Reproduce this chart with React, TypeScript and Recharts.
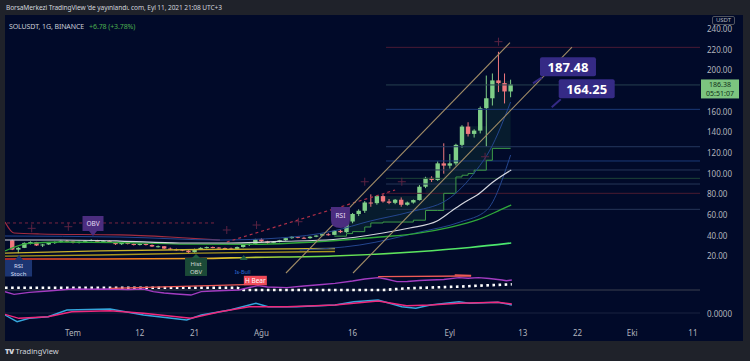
import React from 'react';
import { ComposedChart, Bar, Line, Area, XAxis, YAxis, ReferenceLine, ReferenceDot } from 'recharts';

// ---------- axis setup ----------
const X_MIN = -11.19;
const X_MAX = 103.16;
const PRICE_DOMAIN: [number, number] = [-47.43, 252.64];
const RSI_DOMAIN: [number, number] = [-32, 588];
const OSC_DOMAIN: [number, number] = [-6.5, 148.5];
const tickDays = [0, 11, 20, 31, 46, 62, 74, 83, 92, 102];
const tickLabels = ['Tem', '12', '21', 'Ağu', '16', 'Eyl', '13', '22', 'Eki', '11'];
const priceTicks = [20, 40, 60, 80, 100, 120, 140, 160, 200, 220, 240];

// ---------- candles (day 0 = 1 Temmuz) ----------
const days = [-10, -9, -8, -7, -6, -5, -4, -3, -2, -1, 0, 1, 2, 3, 4, 5, 6, 7, 8, 9, 10, 11, 12, 13, 14, 15, 16, 17, 18, 19, 20, 21, 22, 23, 24, 25, 26, 27, 28, 29, 30, 31, 32, 33, 34, 35, 36, 37, 38, 39, 40, 41, 42, 43, 44, 45, 46, 47, 48, 49, 50, 51, 52, 53, 54, 55, 56, 57, 58, 59, 60, 61, 62, 63, 64, 65, 66, 67, 68, 69, 70, 71, 72];
const opens = [35.5, 26.5, 28.2, 33, 33.8, 30.5, 31.5, 33, 33.8, 35,
  34.5, 33.2, 34, 35, 35.8, 34, 35, 33.5, 31.8, 33,
  32, 31, 32, 31, 29.5, 29.8, 27.5, 26.8, 26.5, 25.5,
  24, 27, 28.2, 29, 28.5, 28, 27.6, 27.2, 29, 31,
  32, 36.5, 34.5, 33, 34, 35.6, 37.6, 39, 38, 37.6,
  39, 40.1, 41.4, 40.8, 44.7, 43.4, 53.7, 61, 64.1, 72.1,
  71.5, 78.3, 73.1, 71.8, 74.8, 69.9, 72.1, 74.5, 87.4, 96,
  93.9, 110, 107.8, 110, 127.9, 145.6, 138.5, 141.7, 163.4, 173,
  190.3, 187.7, 179.6];
const highs = [36, 29, 33.5, 34.5, 34, 32, 33.5, 34.5, 35.5, 35.8,
  35, 34.5, 35.5, 36.5, 36, 35.5, 35.5, 34, 33.5, 33.5,
  32.5, 32.5, 32.5, 31.5, 30.5, 30, 28.5, 27.5, 27, 26,
  27.5, 28.8, 29.5, 29.5, 29, 28.5, 28.5, 29.5, 31.5, 32.5,
  37, 37.5, 35, 34.5, 36, 38, 39.5, 39.5, 39, 39.5,
  40.5, 42, 42.5, 45.5, 46, 54.5, 62, 65.5, 73.5, 80,
  79, 80, 75.5, 75.5, 77, 73, 75, 89, 97, 97.5,
  112, 129.4, 119, 129, 147, 149.8, 143, 165, 195, 197,
  218, 197, 191];
const lows = [26, 23, 28, 31.5, 30, 29, 31, 32, 33, 33.5,
  32.5, 32.5, 33.5, 34.5, 33.5, 33.5, 33, 31, 31, 31.5,
  30.5, 30.5, 30.5, 29, 28.5, 27, 26, 25.5, 25, 22.5,
  23.5, 26.5, 27.5, 27.8, 27.5, 27, 26.5, 27, 28.5, 30,
  31.5, 34, 32, 32.5, 33.5, 35, 37, 37.5, 37, 37,
  38.5, 39.5, 40, 40.5, 42.5, 42.8, 52, 59, 62, 68,
  70, 72, 70.5, 70.5, 68, 69, 71, 74, 86, 92,
  93, 100, 105, 108, 125, 136, 135, 139, 126, 166,
  179, 168, 174];
const closes = [26.5, 28.2, 33, 33.8, 30.5, 31.5, 33, 33.8, 35, 34.5,
  33.2, 34, 35, 35.8, 34, 35, 33.5, 31.8, 33, 32,
  31, 32, 31, 29.5, 29.8, 27.5, 26.8, 26.5, 25.5, 24,
  27, 28.2, 29, 28.5, 28, 27.6, 27.2, 29, 31, 32,
  36.5, 34.5, 33, 34, 35.6, 37.6, 39, 38, 37.6, 39,
  40.1, 41.4, 40.8, 44.7, 43.4, 53.7, 61, 64.1, 72.1, 71.5,
  78.3, 73.1, 71.8, 74.8, 69.9, 72.1, 74.5, 87.4, 96, 93.9,
  110, 107.8, 110, 127.9, 145.6, 138.5, 141.7, 163.4, 173, 190.3,
  187.7, 179.6, 186.38];
const lastPrice = 186.38;

// ---------- overlays on price pane ----------
const whiteDays = [-11.19, -2.14, 7.73, 17.6, 25.8, 34.1, 42.8, 51.0, 55.4, 59.9, 62.4, 64.5, 66.5, 69.1, 72.1];
const whiteVals = [35.8, 35.8, 34.8, 32.9, 32.9, 34.4, 36.3, 42.6, 47.4, 54.2, 64.4, 72.6, 79.4, 92.0, 103.6];
const greenDays = [-11.19, -7.57, -2.14, 7.73, 17.6, 29.1, 42.8, 50.5, 56.6, 62.0, 66.5, 70.3, 72.1];
const greenVals = [25.2, 32.4, 33.9, 33.4, 31.9, 31.7, 35.1, 38.7, 42.3, 48.1, 55.2, 64.9, 69.7];
const longDays = [-11.19, 4.44, 20.9, 29.1, 42.8, 56.6, 65.3, 72.1];
const longVals = [17.4, 17.4, 17.9, 18.9, 20.3, 24.5, 28.6, 32.9];
const yellowDays = [-11.19, 4.44, 20.9, 43.1];
const yellow1Vals = [23.2, 25.2, 26.6, 27.6];
const yellow2Vals = [20.3, 21.3, 23.2, 24.7];
const redBandDays = [-11.19, -9.71, -5.43, 7.73, 15.96, 24.2];
const redBandVals = [53.2, 42.6, 41.6, 40.7, 38.7, 35.8];
const blue1Days = [-11.19, 7.73, 24.2, 34.1, 42.8, 48.9, 55.4, 61.5, 66.4, 68.6, 72.0];
const blue1Vals = [39.7, 38.7, 35.8, 37.8, 44.5, 54.2, 62.9, 74.5, 103.6, 122.9, 169.4];
const blue2Days = [37.3, 47.2, 57.1, 63.7, 68.1, 72.0];
const blue2Vals = [26.1, 31, 43.6, 53.2, 64.9, 118.1];
const dashFlatDays = [-10.86, 23.7];
const dashFlatVals = [52.3, 52.3];
const dashRiseDays = [25.3, 53.0];
const dashRiseVals = [33.9, 84.2];
const chanUpDays = [35.04, 71.9];
const chanUpVals = [3.87, 226.8];
const chanLoDays = [46.07, 82.1];
const chanLoVals = [3.87, 222.6];
const fillDays = [43, 45, 46, 48, 49, 51, 56, 58, 60, 61, 63, 64, 65, 66, 68, 69, 72];
const fillLower = [39.5, 42, 43.9, 48.4, 52.3, 53.2, 55, 64.4, 64.4, 81, 96.8, 98.5, 100.1, 103.4, 113, 124.5, 124.5];
const fillUpper = [44.7, 53.7, 61, 72.1, 72.1, 78.3, 78.3, 96, 96, 110, 128, 146, 146, 146, 173, 190, 190];
const levelStart = 51.5;
const levelVals = [222.3, 185.9, 162.3, 126.1, 112.3, 103.6, 95.5, 90, 81, 65.5];
const levelColors = ['#4a1b34', '#27414f', '#1b3a78', '#24385e', '#1b3a78', '#263657', '#1d4436', '#263657', '#4a1b30', '#263657'];
const crossDays = [-6.8, -0.77, 25.3, 30.2, 37.1, 48.0, 54.1, 67.8, 70.0];
const crossVals = [47.1, 48.7, 45.5, 50.3, 53.5, 92.2, 92.2, 116.4, 227.8];
const tagDays = [75.68, 78.76];
const tagVals = [187.48, 164.25];

// ---------- lower panes ----------
const rsiDays = [-11.19, -9.7, -7.2, -4.1, -0.2, 3, 6.1, 9, 11.6, 13.2, 15, 17, 19.4, 21.1, 23, 25, 27.3, 29, 30.4, 32, 35.2, 38, 41, 43.1, 46, 48, 50.2, 51.5, 53.3, 55, 57, 58.8, 61, 63.5, 65, 66.7, 68.5, 70.6, 71.3, 72.2];
const rsiVals = [36.6, 31.4, 35.4, 38, 42, 41.5, 42, 41, 42, 36.6, 34, 32, 30, 36.6, 38, 39, 40, 45, 48.6, 46, 44.6, 48, 51, 53.4, 58, 62, 64.6, 62, 56.6, 57, 59, 60, 61, 64.6, 63.5, 64.6, 63, 60, 58.5, 60];
const obvDays = [-11.19, 27, 28, 51, 55, 63, 72.2];
const obvVals = [44.6, 44.6, 40, 40, 43.4, 46.6, 51.4];
const div1Days = [6.09, 29.72];
const div1Vals = [43.4, 51.4];
const div2Days = [50.2, 65.5];
const div2Vals = [66.6, 68.0];
const div3Days = [62.8, 65.5];
const div3Vals = [70.0, 69.0];
const macdDays = [-11.19, -9.2, -7.2, -4.1, -1.0, 6.1, 11.6, 18.7, 21.1, 25.8, 30.1, 32.1, 36.8, 43.1, 46.2, 50.2, 54.1, 56.4, 58.8, 63.5, 65.2, 69.9, 72.2];
const macdVals = [-1, -4.35, -2.65, -1.85, 1.5, 2, -1, -3.5, -1, 1.5, 4.85, 3.15, 3.15, 4, 5.65, 6.5, 3.15, 2.35, 4, 5.65, 4.85, 5.35, 4];
const signalDays = [-11.19, -8.9, -4.1, -0.2, 6.1, 11.6, 19.4, 24.2, 29, 35.2, 43.1, 50.2, 54.9, 58.8, 63.5, 69.9, 72.2];
const signalVals = [-0.65, -2.65, -1.85, 0.65, 1.15, -0.15, -2.65, 0.65, 3.15, 3.15, 4, 6, 3.65, 4, 4.85, 5.35, 4.5];

// ---------- styles ----------
const NAVY = '#010a29';
const UP = '#80cf88';
const DOWN = '#f0787e';
const PURPLE = '#4b2d7f';
const TAG = '#352a85';
const FONT = "'Noto Sans', 'DejaVu Sans', sans-serif";

const zip = (xs: number[], ys: number[]) => xs.map((d, i) => ({ d, v: ys[i] }));

const Candle = (props: any) => {
  const { x, y, width, height, payload } = props;
  if (x == null || y == null || !payload) return null;
  const { open, close, high, low } = payload;
  const top = Math.min(y, y + height);
  const h = Math.abs(height);
  const range = high - low;
  const ppu = range > 0 ? h / range : 0;
  const yO = top + (high - open) * ppu;
  const yC = top + (high - close) * ppu;
  const color = close >= open ? UP : DOWN;
  const cx = x + width / 2;
  const bt = Math.min(yO, yC);
  const bh = Math.max(1, Math.abs(yC - yO));
  return (
    <g>
      <line x1={cx} x2={cx} y1={top} y2={top + h} stroke={color} strokeWidth={1} />
      <rect x={cx - 2.2} y={bt} width={4.4} height={bh} fill={color} />
    </g>
  );
};

const PriceTag = (text: string, dy: number) => (p: any) => {
  const { cx, cy } = p;
  return (
    <g>
      <line x1={cx} y1={cy} x2={cx + 9} y2={cy + dy + 1} stroke={TAG} strokeWidth={2} />
      <rect x={cx + 7} y={cy + dy - 19} width={56} height={19} rx={2} fill={TAG} />
      <text x={cx + 35} y={cy + dy - 9.5} textAnchor="middle" dominantBaseline="central" fill="#ffffff" fontSize={13} fontWeight={700} fontFamily={FONT}>{text}</text>
    </g>
  );
};

const LastPriceTag = (p: any) => {
  const { cx, cy } = p;
  return (
    <g>
      <rect x={cx + 1} y={cy - 5} width={38} height={19} fill="#7cc47f" />
      <text x={cx + 20} y={cy - 0.3} textAnchor="middle" dominantBaseline="central" fill="#10301a" fontSize={7} fontFamily={FONT}>{lastPrice.toFixed(2)}</text>
      <text x={cx + 20} y={cy + 9.3} textAnchor="middle" dominantBaseline="central" fill="#10301a" fontSize={7} fontFamily={FONT}>05:51:07</text>
    </g>
  );
};

const ZeroTag = (p: any) => (
  <text x={p.cx + 7} y={p.cy} dominantBaseline="central" fill="#b2b5be" fontSize={8} fontFamily={FONT}>0.0000</text>
);

const ObvTag = (p: any) => {
  const { cx, cy } = p;
  return (
    <g>
      <path d={`M${cx - 4},${cy - 5} L${cx + 4},${cy - 5} L${cx},${cy} Z`} fill={PURPLE} />
      <rect x={cx - 10.5} y={cy - 20} width={21} height={15} fill={PURPLE} />
      <text x={cx} y={cy - 12.5} textAnchor="middle" dominantBaseline="central" fill="#e6dcf5" fontSize={6.5} fontFamily={FONT}>OBV</text>
    </g>
  );
};

const RsiTag = (p: any) => {
  const { cx, cy } = p;
  return (
    <g>
      <path d={`M${cx - 9.5},${cy - 21} H${cx + 9.5} V${cy - 8} Q${cx + 9.5},${cy} ${cx},${cy} Q${cx - 9.5},${cy} ${cx - 9.5},${cy - 8} Z`} fill={PURPLE} />
      <text x={cx} y={cy - 13} textAnchor="middle" dominantBaseline="central" fill="#e6dcf5" fontSize={6.5} fontFamily={FONT}>RSI</text>
    </g>
  );
};

const StochTag = (p: any) => {
  const { cx, cy } = p;
  const c = '#1c3572';
  return (
    <g clipPath="url(#pricePane)">
      <path d={`M${cx},${cy} L${cx + 4},${cy + 5} L${cx - 4},${cy + 5} Z`} fill={c} />
      <rect x={cx - 14} y={cy + 5} width={27} height={17} fill={c} />
      <text x={cx - 0.5} y={cy + 11} textAnchor="middle" dominantBaseline="central" fill="#d8def0" fontSize={6} fontFamily={FONT}>RSI</text>
      <text x={cx - 0.5} y={cy + 19.5} textAnchor="middle" dominantBaseline="central" fill="#d8def0" fontSize={6} fontFamily={FONT}>Stoch</text>
    </g>
  );
};

const HistTag = (p: any) => {
  const { cx, cy } = p;
  const c = '#1b4a37';
  return (
    <g clipPath="url(#pricePane)">
      <path d={`M${cx},${cy} L${cx + 4},${cy + 4} L${cx - 4},${cy + 4} Z`} fill="#1f5e40" />
      <rect x={cx - 11} y={cy + 4} width={22} height={18} fill={c} />
      <text x={cx} y={cy + 10} textAnchor="middle" dominantBaseline="central" fill="#cfd8d3" fontSize={6} fontFamily={FONT}>Hist</text>
      <text x={cx} y={cy + 18} textAnchor="middle" dominantBaseline="central" fill="#cfd8d3" fontSize={6} fontFamily={FONT}>OBV</text>
    </g>
  );
};

const BullTag = (p: any) => {
  const { cx, cy } = p;
  return (
    <g>
      <path d={`M${cx},${cy} L${cx + 4},${cy + 5} L${cx - 4},${cy + 5} Z`} fill="#1f5e40" />
      <text x={cx - 1} y={cy + 17} textAnchor="middle" dominantBaseline="central" fill="#2f6bd8" fontSize={5.5} fontFamily={FONT}>Is-Bull</text>
    </g>
  );
};

const BearTag = (p: any) => {
  const { cx, cy } = p;
  return (
    <g>
      <rect x={cx - 11.5} y={cy - 8.5} width={23} height={9.5} fill="#f04a58" />
      <text x={cx} y={cy - 3.7} textAnchor="middle" dominantBaseline="central" fill="#ffffff" fontSize={6.5} fontFamily={FONT}>H Bear</text>
    </g>
  );
};

const CrossMark = (p: any) => {
  const { cx, cy } = p;
  return (
    <g stroke="#5a2342" strokeWidth={1}>
      <line x1={cx - 4} x2={cx + 4} y1={cy} y2={cy} />
      <line x1={cx} x2={cx} y1={cy - 4} y2={cy + 4} />
    </g>
  );
};

export default function App() {
  const candles = days.map((d, i) => ({ d, open: opens[i], high: highs[i], low: lows[i], close: closes[i] }));
  const fillData = fillDays.map((d, i) => ({ d, lo: fillLower[i], hi: fillUpper[i] }));

  return (
    <div style={{ position: 'fixed', left: 0, top: 0, width: 750, height: 361, background: '#1f222a', overflow: 'hidden', fontFamily: FONT }}>
      <div style={{ position: 'absolute', left: 6, top: 3, fontSize: 6.6, color: '#d1d4dc', whiteSpace: 'nowrap', letterSpacing: -0.1, lineHeight: '10px' }}>
        BorsaMerkezi TradingView 'de yayınlandı. com, Eyl 11, 2021 21:08 UTC+3
      </div>
      <div style={{ position: 'absolute', left: 5, top: 15, width: 738, height: 326, background: NAVY }} />
      <div style={{ position: 'absolute', left: 0, top: 0 }}>
        <ComposedChart width={750} height={343} data={candles} margin={{ top: 16, right: 5, bottom: 2, left: 5 }}>
          <defs>
            <linearGradient id="longGrad" x1="0" y1="0" x2="1" y2="0">
              <stop offset="0" stopColor="#e2302c" />
              <stop offset="0.25" stopColor="#ff7a1c" />
              <stop offset="0.45" stopColor="#d8c22c" />
              <stop offset="0.6" stopColor="#6fe04c" />
              <stop offset="1" stopColor="#48e870" />
            </linearGradient>
            <clipPath id="pricePane">
              <rect x={0} y={16} width={750} height={260.5} />
            </clipPath>
          </defs>
          <XAxis dataKey="d" type="number" domain={[X_MIN, X_MAX]} allowDataOverflow ticks={tickDays}
            tickFormatter={(v: number) => tickLabels[tickDays.indexOf(v)] ?? ''}
            axisLine={false} tickLine={false} tickSize={0} tickMargin={4} height={15}
            tick={{ fill: '#b2b5be', fontSize: 8 }} interval={0} />
          <YAxis yAxisId="price" orientation="right" type="number" domain={PRICE_DOMAIN} allowDataOverflow ticks={priceTicks}
            tickFormatter={(v: number) => v.toFixed(2)} axisLine={false} tickLine={false} tickSize={0} tickMargin={7} width={45}
            tick={{ fill: '#b2b5be', fontSize: 8, textAnchor: 'start' }} interval={0} />
          <YAxis yAxisId="rsi" hide type="number" domain={RSI_DOMAIN} allowDataOverflow />
          <YAxis yAxisId="osc" hide type="number" domain={OSC_DOMAIN} allowDataOverflow />

          {levelVals.map((v, i) => (
            <Line key={'lvl' + i} yAxisId="price" data={[{ d: levelStart, v }, { d: X_MAX, v }]} dataKey="v" stroke={levelColors[i]} strokeWidth={1} dot={false} isAnimationActive={false} />
          ))}

          <Area yAxisId="price" data={fillData} dataKey={(p: any) => [p.lo, p.hi]} type="stepAfter" stroke="none" fill="#2d7a4a" fillOpacity={0.16} isAnimationActive={false} />
          <Line yAxisId="price" data={fillData} dataKey="lo" type="stepAfter" stroke="#3c9a48" strokeWidth={1} dot={false} isAnimationActive={false} />

          <Line yAxisId="price" data={zip(yellowDays, yellow1Vals)} dataKey="v" type="monotone" stroke="#c9b22a" strokeWidth={1.3} dot={false} isAnimationActive={false} />
          <Line yAxisId="price" data={zip(yellowDays, yellow2Vals)} dataKey="v" type="monotone" stroke="#a8961f" strokeWidth={1.3} dot={false} isAnimationActive={false} />
          <Line yAxisId="price" data={zip(redBandDays, redBandVals)} dataKey="v" type="monotone" stroke="#a32c40" strokeWidth={1.2} dot={false} isAnimationActive={false} />
          <Line yAxisId="price" data={zip(blue1Days, blue1Vals)} dataKey="v" type="monotone" stroke="#24468f" strokeWidth={1} dot={false} isAnimationActive={false} />
          <Line yAxisId="price" data={zip(blue2Days, blue2Vals)} dataKey="v" type="monotone" stroke="#24468f" strokeWidth={1} dot={false} isAnimationActive={false} />
          <Line yAxisId="price" data={zip(dashFlatDays, dashFlatVals)} dataKey="v" stroke="#7a2440" strokeWidth={1} strokeDasharray="3 3" dot={false} isAnimationActive={false} />
          <Line yAxisId="price" data={zip(dashRiseDays, dashRiseVals)} dataKey="v" stroke="#b03048" strokeWidth={1.2} strokeDasharray="3 3" dot={false} isAnimationActive={false} />
          <Line yAxisId="price" data={zip(longDays, longVals)} dataKey="v" type="monotone" stroke="url(#longGrad)" strokeWidth={1.6} dot={false} isAnimationActive={false} />
          <Line yAxisId="price" data={zip(greenDays, greenVals)} dataKey="v" type="monotone" stroke="#2fa83a" strokeWidth={1.3} dot={false} isAnimationActive={false} />
          <Line yAxisId="price" data={zip(whiteDays, whiteVals)} dataKey="v" type="monotone" stroke="#d4d6de" strokeWidth={1.2} dot={false} isAnimationActive={false} />

          <Bar yAxisId="price" dataKey={(p: any) => [p.low, p.high]} barSize={4} shape={<Candle />} isAnimationActive={false} />

          <Line yAxisId="price" data={zip(chanUpDays, chanUpVals)} dataKey="v" stroke="#a18c66" strokeWidth={1.1} dot={false} isAnimationActive={false} />
          <Line yAxisId="price" data={zip(chanLoDays, chanLoVals)} dataKey="v" stroke="#a18c66" strokeWidth={1.1} dot={false} isAnimationActive={false} />

          <ReferenceLine yAxisId="rsi" y={40} stroke="#3c4150" strokeWidth={1} />
          <ReferenceLine yAxisId="osc" y={0} stroke="#1a2240" strokeWidth={1} />

          <Line yAxisId="rsi" data={zip(obvDays, obvVals)} dataKey="v" stroke="#ffffff" strokeWidth={2.6} strokeDasharray="2.6 3.5" dot={false} isAnimationActive={false} />
          <Line yAxisId="rsi" data={zip(rsiDays, rsiVals)} dataKey="v" stroke="#a23cc0" strokeWidth={1.3} dot={false} isAnimationActive={false} />
          <Line yAxisId="rsi" data={zip(div1Days, div1Vals)} dataKey="v" stroke="#ef5a55" strokeWidth={1.3} dot={false} isAnimationActive={false} />
          <Line yAxisId="rsi" data={zip(div2Days, div2Vals)} dataKey="v" stroke="#ef5a55" strokeWidth={1.3} dot={false} isAnimationActive={false} />
          <Line yAxisId="rsi" data={zip(div3Days, div3Vals)} dataKey="v" stroke="#ef5a55" strokeWidth={1.3} dot={false} isAnimationActive={false} />

          <Line yAxisId="osc" data={zip(macdDays, macdVals)} dataKey="v" stroke="#35a6dc" strokeWidth={1.4} dot={false} isAnimationActive={false} />
          <Line yAxisId="osc" data={zip(signalDays, signalVals)} dataKey="v" stroke="#f0287c" strokeWidth={1.4} dot={false} isAnimationActive={false} />

          {crossDays.map((d, i) => (
            <ReferenceDot key={'c' + i} yAxisId="price" x={d} y={crossVals[i]} ifOverflow="visible" shape={CrossMark} />
          ))}
          <ReferenceDot yAxisId="price" x={3.29} y={39.7} ifOverflow="visible" shape={ObvTag} />
          <ReferenceDot yAxisId="price" x={44.0} y={47.4} ifOverflow="visible" shape={RsiTag} />
          <ReferenceDot yAxisId="price" x={-8.88} y={21.3} ifOverflow="visible" shape={StochTag} />
          <ReferenceDot yAxisId="price" x={20.24} y={22.3} ifOverflow="visible" shape={HistTag} />
          <ReferenceDot yAxisId="price" x={28.08} y={21.3} ifOverflow="visible" shape={BullTag} />
          <ReferenceDot yAxisId="rsi" x={30.0} y={51.4} ifOverflow="visible" shape={BearTag} />
          <ReferenceDot yAxisId="price" x={tagDays[0]} y={tagVals[0]} ifOverflow="visible" shape={PriceTag(tagVals[0].toFixed(2), -7)} />
          <ReferenceDot yAxisId="price" x={tagDays[1]} y={tagVals[1]} ifOverflow="visible" shape={PriceTag(tagVals[1].toFixed(2), -9)} />
          <ReferenceDot yAxisId="price" x={X_MAX} y={lastPrice} ifOverflow="visible" shape={LastPriceTag} />
          <ReferenceDot yAxisId="osc" x={X_MAX} y={0} ifOverflow="visible" shape={ZeroTag} />
        </ComposedChart>
      </div>
      <div style={{ position: 'absolute', left: 9, top: 22, fontSize: 7, whiteSpace: 'nowrap', letterSpacing: -0.1, lineHeight: '10px' }}>
        <span style={{ color: '#c9ccd6' }}>SOLUSDT, 1G, BINANCE</span>
        <span style={{ color: '#4caf50', marginLeft: 5 }}>+6.78 (+3.78%)</span>
      </div>
      <div style={{ position: 'absolute', left: 712, top: 15.5, width: 21, height: 7, border: '1px solid #50535e', borderRadius: 2, background: NAVY, color: '#b2b5be', fontSize: 6, lineHeight: '7px', textAlign: 'center' }}>USDT</div>
      <div style={{ position: 'absolute', left: 5, top: 346, fontSize: 7.5, color: '#d1d4dc', whiteSpace: 'nowrap', lineHeight: '11px' }}>
        <span style={{ fontWeight: 900, letterSpacing: -0.5 }}>TV</span> TradingView
      </div>
    </div>
  );
}
